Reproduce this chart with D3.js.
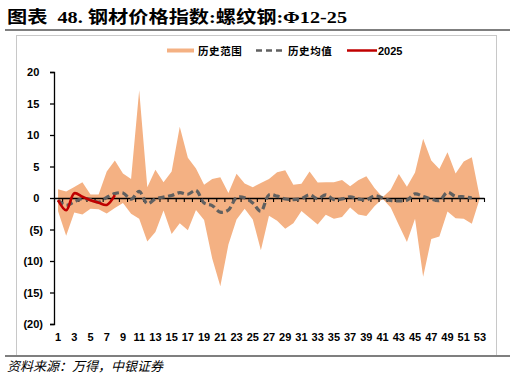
<!DOCTYPE html>
<html><head><meta charset="utf-8">
<script src="https://cdn.jsdelivr.net/npm/d3@7"></script>
<style>body{margin:0;background:#fff}svg{display:block}</style>
</head><body>
<svg id="c" width="515" height="382"></svg>
<script>
const weeks = d3.range(1, 54);
const upper = [1.4,1.05,1.75,2.5,0.55,0.55,4.2,5.95,3.9,3.0,17.1,1.7,4.5,2.5,4.2,11.3,6.4,4.7,2.1,3.0,3.3,0.8,3.85,2.3,1.7,2.4,3.0,4.1,4.4,2.1,2.25,4.2,2.45,2.5,2.5,2.85,1.85,2.8,3.45,1.6,0.1,1.3,3.8,1.8,4.05,9.4,5.95,4.6,7.25,3.9,5.8,6.45,0];
const lower = [-2.1,-6.0,-2.3,-2.6,-1.7,-1.8,-2.45,-1.6,-0.8,-2.5,-3.3,-6.9,-5.4,-2.0,-5.7,-4.0,-5.1,-1.9,-3.5,-9.6,-14.0,-7.4,-3.4,-1.7,-3.4,-8.3,-2.8,-3.6,-4.9,-4.0,-2.05,-3.15,-4.2,-2.65,-3.3,-3.0,-1.5,-2.6,-2.85,-1.3,-0.1,-1.5,-4.3,-7.0,-3.3,-12.5,-6.5,-6.1,-2.15,-3.2,-3.3,-4.1,0];
const mean = [-0.35,-1.15,-0.6,-0.1,-0.25,-0.65,0.1,0.7,0.8,-0.2,1.05,-0.9,-0.15,0.15,0.4,0.85,0.6,1.2,-0.8,-1.2,-2.25,-1.9,0.05,0.05,-0.8,-2.1,0.5,0.3,-0.15,-0.25,-0.1,0.5,-0.1,0.5,-0.25,-0.15,0.2,-0.15,-0.3,0.35,0,-0.4,-0.45,-0.35,0.65,0.25,-0.15,-0.4,0.9,0.25,0.2,0.0];
const y2025 = [-0.35,-1.95,0.75,0.2,-0.35,-0.75,-1.1,0.45];
const yTicks = [-20,-15,-10,-5,0,5,10,15,20];
const xLabels = weeks.filter(d => d % 2 === 1);
const legendNames = ["历史范围","历史均值","2025"];
const titleText = "图表  48. 钢材价格指数:螺纹钢:Φ12-25";
const sourceText = "资料来源：万得，中银证券";

const svg = d3.select("#c");
const FONT = "Arial, 'Liberation Sans', sans-serif";

// title
svg.append("text").attr("x",7).attr("y",23)
  .attr("font-family","'Liberation Serif','Noto Sans CJK SC',serif")
  .attr("font-weight","bold").attr("font-size",17).attr("fill","#000")
  .style("white-space","pre")
  .attr("textLength",340).attr("lengthAdjust","spacingAndGlyphs")
  .text(titleText);

// frame
svg.append("rect").attr("x",16.5).attr("y",35.5).attr("width",480).attr("height",321)
  .attr("fill","none").attr("stroke","#c8c8c8").attr("stroke-width",1);
svg.append("line").attr("x1",5).attr("x2",510).attr("y1",30).attr("y2",30)
  .attr("stroke","#7f7f7f").attr("stroke-width",2);
svg.append("line").attr("x1",5).attr("x2",510).attr("y1",356).attr("y2",356)
  .attr("stroke","#7f7f7f").attr("stroke-width",2);

const x = d3.scaleBand().domain(weeks).range([54,484]).padding(0);
const xl = d3.scaleLinear().domain([0,53]).range([54,484]);
const y = d3.scaleLinear().domain([-20,20]).range([324,72]);
const cx = d => x(d) + x.bandwidth()/2;

// band
const area = d3.area().x((d,i)=>cx(weeks[i])).y0((d,i)=>y(lower[i])).y1((d,i)=>y(upper[i]));
svg.append("path").datum(upper).attr("d",area).attr("fill","#F4B183");

// y axis
const ya = svg.append("g").attr("transform","translate(54,0)")
  .call(d3.axisLeft(y).tickValues(yTicks).tickSize(4).tickPadding(7)
    .tickFormat(d => d < 0 ? "(" + Math.abs(d) + ")" : String(d)));
ya.select(".domain").attr("stroke","#000").attr("stroke-width",1.3);
ya.selectAll(".tick line").attr("stroke","#000").attr("stroke-width",1.3);
ya.selectAll(".tick text").attr("font-family",FONT).attr("font-size",11).attr("font-weight","bold")
  .attr("fill","#000").attr("dx", d => d < 0 ? 0 : -3.7);

// x axis line + boundary ticks
const xa = svg.append("g").attr("transform",`translate(0,${y(0)})`)
  .call(d3.axisBottom(xl).tickValues(d3.range(0,54)).tickSize(4).tickSizeOuter(0).tickFormat(""));
xa.select(".domain").attr("stroke","#000").attr("stroke-width",1.3);
xa.selectAll(".tick line").attr("stroke","#000").attr("stroke-width",1.1);

// x labels
const xb = svg.append("g").attr("transform","translate(0,330)")
  .call(d3.axisBottom(x).tickValues(xLabels).tickSize(0).tickPadding(3));
xb.select(".domain").remove();
xb.selectAll(".tick text").attr("font-family",FONT).attr("font-size",11).attr("font-weight","bold").attr("fill","#000");

// mean line
const line = d3.line().x((d,i)=>cx(weeks[i])).y(d=>y(d)).curve(d3.curveCatmullRom.alpha(0.5));
svg.append("path").datum(mean).attr("d",line).attr("fill","none")
  .attr("stroke","#606060").attr("stroke-width",3.2).attr("stroke-dasharray","6.5,3.5");

// 2025
svg.append("path").datum(y2025).attr("d",line).attr("fill","none")
  .attr("stroke","#C00000").attr("stroke-width",2.6).attr("stroke-linejoin","round");

// legend
const lg = svg.append("g");
lg.append("line").attr("x1",167).attr("x2",194).attr("y1",50.5).attr("y2",50.5).attr("stroke","#F4B183").attr("stroke-width",4);
lg.append("line").attr("x1",256).attr("x2",283).attr("y1",50.5).attr("y2",50.5).attr("stroke","#606060").attr("stroke-width",2.5).attr("stroke-dasharray","6,4");
lg.append("line").attr("x1",347).attr("x2",377).attr("y1",50.5).attr("y2",50.5).attr("stroke","#C00000").attr("stroke-width",2.5);
const lx = [198,288,378];
legendNames.forEach((n,i)=>{
  lg.append("text").attr("x",lx[i]).attr("y",54.5)
    .attr("font-family", i===2 ? FONT : "'Noto Sans CJK SC',sans-serif")
    .attr("font-size", i===2 ? 11 : 10.5).attr("font-weight","bold").attr("fill","#000")
    .attr("letter-spacing", i===2 ? 0 : 0.6).text(n);
});

// source
svg.append("text").attr("x",7).attr("y",371)
  .attr("font-family","'Noto Sans CJK SC',sans-serif").attr("font-style","italic")
  .attr("font-size",13).attr("fill","#000").text(sourceText);
</script>
</body></html>
